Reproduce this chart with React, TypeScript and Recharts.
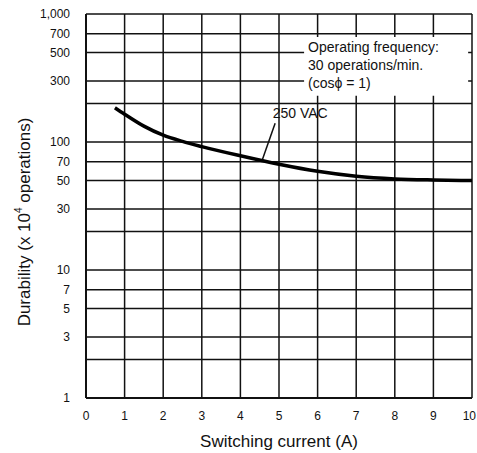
import { LineChart, Line, XAxis, YAxis, CartesianGrid, ReferenceArea, ReferenceLine, ReferenceDot } from "recharts"

const currentTicks = [0, 1, 2, 3, 4, 5, 6, 7, 8, 9, 10]
const durabilityTicks = [1, 2, 3, 5, 7, 10, 20, 30, 50, 70, 100, 200, 300, 500, 700, 1000]
const unlabeled = [2, 20, 200]

// 250 VAC curve (x 10^4 operations)
const current = [0.75, 1, 1.5, 2, 2.5, 3, 4, 5, 6, 7, 8, 9, 10]
const durability = [185, 165, 133, 113, 101, 92, 78, 67, 59, 54, 51.5, 50.5, 50]

const data = current.map((c, i) => ({ current: c, durability: durability[i] }))

const FONT = "'Liberation Sans', Arial, sans-serif"

function fmtY(v: number) {
  if (unlabeled.includes(v)) return ""
  return v === 1000 ? "1,000" : String(v)
}

function XTick({ x, y, payload }: any) {
  const last = payload.value === 10
  return (
    <text x={last ? x + 4 : x} y={y + 10} textAnchor={last ? "end" : "middle"}
      fontFamily={FONT} fontSize={12} fill="#111">{payload.value}</text>
  )
}

function YLabel({ viewBox }: any) {
  const cx = 24
  const cy = viewBox.y + viewBox.height / 2 + 16
  return (
    <text x={cx} y={cy} transform={`rotate(-90 ${cx} ${cy})`} textAnchor="middle"
      dominantBaseline="central" fontFamily={FONT} fontSize={17} fill="#111">
      Durability  (x 10<tspan baselineShift="super" fontSize={10}>4</tspan> operations)
    </text>
  )
}

function NoteBox({ viewBox }: any) {
  const x = viewBox.x + 4
  const y = viewBox.y
  return (
    <text x={x} y={y} fontFamily={FONT} fontSize={14} fill="#111">
      <tspan x={x} dy={15}>Operating frequency:</tspan>
      <tspan x={x} dy={18}>30 operations/min.</tspan>
      <tspan x={x} dy={18}>(cosϕ = 1)</tspan>
    </text>
  )
}

function VacLabel({ viewBox }: any) {
  const x = viewBox.x + (viewBox.width || 0) / 2
  const y = viewBox.y + (viewBox.height || 0) / 2
  return (
    <text x={x} y={y} textAnchor="middle" dominantBaseline="central"
      fontFamily={FONT} fontSize={14} fill="#111">250 VAC</text>
  )
}

export default function App() {
  return (
    <div style={{ position: "absolute", left: 0, top: 0, background: "#fff" }}>
      <LineChart width={477} height={453} data={data}
        margin={{ top: 14, right: 5, left: 0, bottom: 0 }}>
        <CartesianGrid stroke="#111" strokeWidth={1.5} />
        <XAxis dataKey="current" type="number" domain={[0, 10]} ticks={currentTicks} interval={0}
          axisLine={{ stroke: "#111", strokeWidth: 2 }} tickLine={false} height={55}
          tick={<XTick />} tickMargin={6}
          label={{ value: "Switching current (A)", position: "insideBottom", offset: 6,
            fontSize: 17, fill: "#111", fontFamily: FONT }} />
        <YAxis dataKey="durability" scale="log" domain={[1, 1000]} ticks={durabilityTicks} interval={0}
          allowDataOverflow width={86} axisLine={{ stroke: "#111", strokeWidth: 2 }} tickLine={false}
          tickFormatter={fmtY} tick={{ fontSize: 12, fill: "#111", fontFamily: FONT }} tickMargin={10}
          label={<YLabel />} />
        <ReferenceArea x1={5.65} x2={9.9} y1={230} y2={660} fill="#fff" fillOpacity={1}
          stroke="none" label={<NoteBox />} />
        <ReferenceLine segment={[{ x: 4.55, y: 70 }, { x: 4.9, y: 140 }]} stroke="#111" strokeWidth={1.5} />
        <ReferenceDot x={5.55} y={168} r={0} fill="none" stroke="none" label={<VacLabel />} />
        <Line dataKey="durability" type="monotone" stroke="#000" strokeWidth={3.5}
          dot={false} isAnimationActive={false} />
      </LineChart>
    </div>
  )
}
